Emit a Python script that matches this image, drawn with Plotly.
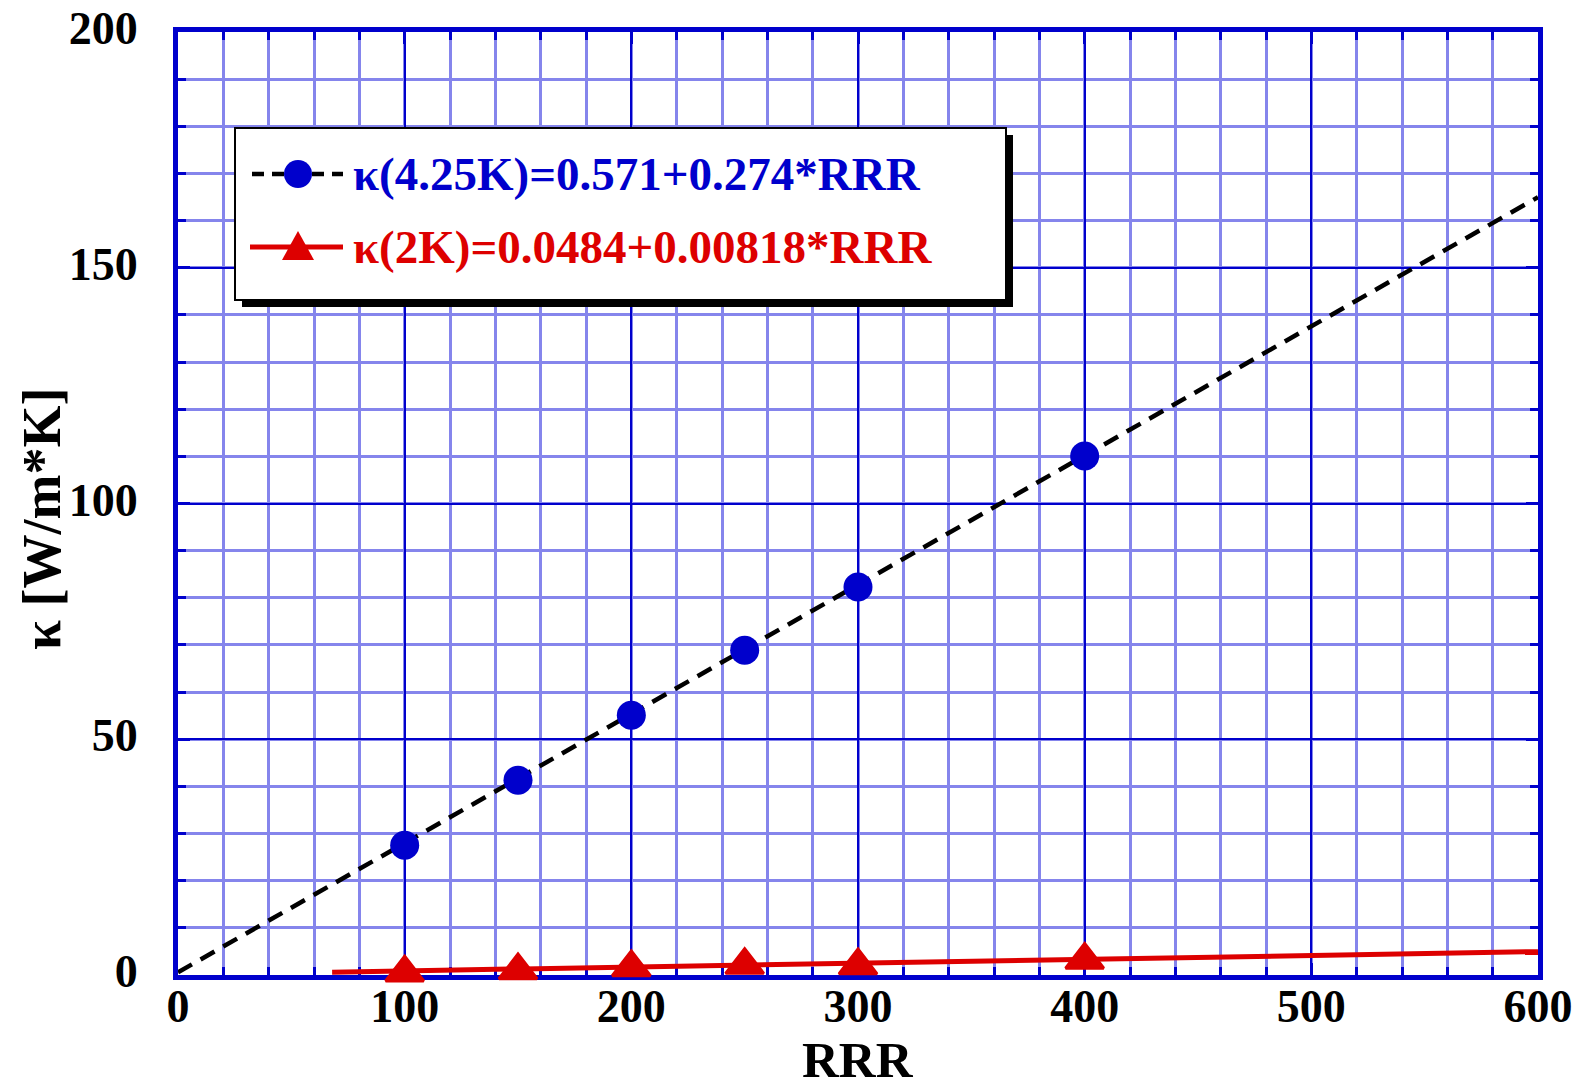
import plotly.graph_objects as go

# Thermal conductivity vs residual resistivity ratio
rrr_pts = [100, 150, 200, 250, 300, 400]
kappa_425 = [27.5, 41.3, 55.1, 68.9, 82.3, 110.1]
kappa_2 = [0.5, 0.95, 1.6, 2.1, 2.0, 3.2]

fit_425 = (0.571, 0.274)      # intercept, slope
fit_2 = (0.0484, 0.00818)
fit_425_x = [0, 600]
fit_2_x = [68, 600]

label_425 = "κ(4.25K)=0.571+0.274*RRR"
label_2 = "κ(2K)=0.0484+0.00818*RRR"
x_title = "RRR"
y_title = "κ [W/m*K]"

x_ticks = [0, 100, 200, 300, 400, 500, 600]
y_ticks = [0, 50, 100, 150, 200]

BLUE = "#0000cc"
RED = "#dd0000"
MINOR = "#8585ec"
FONT = "Liberation Serif"

W, H = 1582, 1092
ML, MR, MT, MB = 178, 44, 32, 117
PW, PH = W - ML - MR, H - MT - MB


def px(X):
    return (X - ML) / PW


def py(Y):
    return (H - MB - Y) / PH


fig = go.Figure()

fig.add_trace(go.Scatter(
    x=fit_425_x, y=[fit_425[0] + fit_425[1] * v for v in fit_425_x],
    mode="lines", line=dict(color="black", width=4.5, dash="16px,10px"),
    showlegend=False, hoverinfo="skip"))
fig.add_trace(go.Scatter(
    x=fit_2_x, y=[fit_2[0] + fit_2[1] * v for v in fit_2_x],
    mode="lines", line=dict(color=RED, width=5),
    showlegend=False, hoverinfo="skip"))
fig.add_trace(go.Scatter(
    x=rrr_pts, y=kappa_425, mode="markers",
    marker=dict(symbol="circle", size=29, color=BLUE),
    showlegend=False, cliponaxis=False))
fig.add_trace(go.Scatter(
    x=rrr_pts, y=kappa_2, mode="markers",
    marker=dict(symbol="triangle-up", size=33, color=RED,
                line=dict(color=RED, width=3)),
    showlegend=False, cliponaxis=False))

axis_common = dict(
    showline=True, linewidth=5, linecolor=BLUE, mirror="allticks",
    ticks="inside", ticklen=12, tickwidth=3, tickcolor=BLUE,
    showgrid=True, gridcolor=BLUE, gridwidth=2,
    zeroline=False,
    tickfont=dict(family=FONT, size=46, color="black", weight="bold"),
    layer="below traces",
)

fig.update_xaxes(
    **axis_common, range=[0, 600], tickvals=x_ticks,
    ticktext=[str(v) for v in x_ticks], ticklabelstandoff=-13,
    minor=dict(dtick=20, showgrid=True, gridcolor=MINOR, gridwidth=3,
               ticks="inside", ticklen=8, tickwidth=3, tickcolor=BLUE),
)
fig.update_yaxes(
    **axis_common, range=[0, 200], tickvals=y_ticks,
    ticktext=[str(v) for v in y_ticks], ticklabelstandoff=26, ticklabelshift=-4,
    minor=dict(dtick=10, showgrid=True, gridcolor=MINOR, gridwidth=3,
               ticks="inside", ticklen=8, tickwidth=3, tickcolor=BLUE),
)

# Legend box with drop shadow
bx0, bx1, by0, by1 = 235, 1006, 128, 300
sh = 7
shapes = [
    dict(type="rect", xref="paper", yref="paper", layer="above",
         x0=px(bx0 + sh), x1=px(bx1 + sh), y0=py(by0 + sh), y1=py(by1 + sh),
         fillcolor="black", line=dict(width=0)),
    dict(type="rect", xref="paper", yref="paper", layer="above",
         x0=px(bx0), x1=px(bx1), y0=py(by0), y1=py(by1),
         fillcolor="white", line=dict(color="black", width=2)),
    dict(type="line", xref="paper", yref="paper", layer="above",
         x0=px(252), x1=px(343), y0=py(174), y1=py(174),
         line=dict(color="black", width=4.5, dash="12px,8px")),
    dict(type="circle", xref="paper", yref="paper", layer="above",
         xsizemode="pixel", ysizemode="pixel", xanchor=px(298), yanchor=py(174),
         x0=-14, x1=14, y0=-14, y1=14, fillcolor=BLUE, line=dict(width=0)),
    dict(type="line", xref="paper", yref="paper", layer="above",
         x0=px(250), x1=px(343), y0=py(247), y1=py(247),
         line=dict(color=RED, width=5)),
    dict(type="path", xref="paper", yref="paper", layer="above",
         xsizemode="pixel", ysizemode="pixel", xanchor=px(298), yanchor=py(247),
         path="M -16,-13 L 16,-13 L 0,16 Z", fillcolor=RED, line=dict(width=0)),
]

annotations = [
    dict(xref="paper", yref="paper", x=px(351), y=py(174), xanchor="left", yanchor="middle",
         text=label_425, showarrow=False,
         font=dict(family=FONT, size=47, color=BLUE, weight="bold")),
    dict(xref="paper", yref="paper", x=px(351), y=py(247), xanchor="left", yanchor="middle",
         text=label_2, showarrow=False,
         font=dict(family=FONT, size=47, color=RED, weight="bold")),
    # axis titles
    dict(xref="paper", yref="paper", x=0.5, y=py(1060), xanchor="center", yanchor="middle",
         text=x_title, showarrow=False,
         font=dict(family=FONT, size=51, color="black", weight="bold")),
    dict(xref="paper", yref="paper", x=px(42), y=py(519), xanchor="center", yanchor="middle",
         text=y_title, showarrow=False, textangle=-90,
         font=dict(family=FONT, size=54, color="black", weight="bold")),
]

fig.update_layout(
    width=W, height=H,
    margin=dict(l=ML, r=MR, t=MT, b=MB, autoexpand=False),
    paper_bgcolor="white", plot_bgcolor="white",
    showlegend=False,
    shapes=shapes, annotations=annotations,
)

fig.write_html("out.html")
